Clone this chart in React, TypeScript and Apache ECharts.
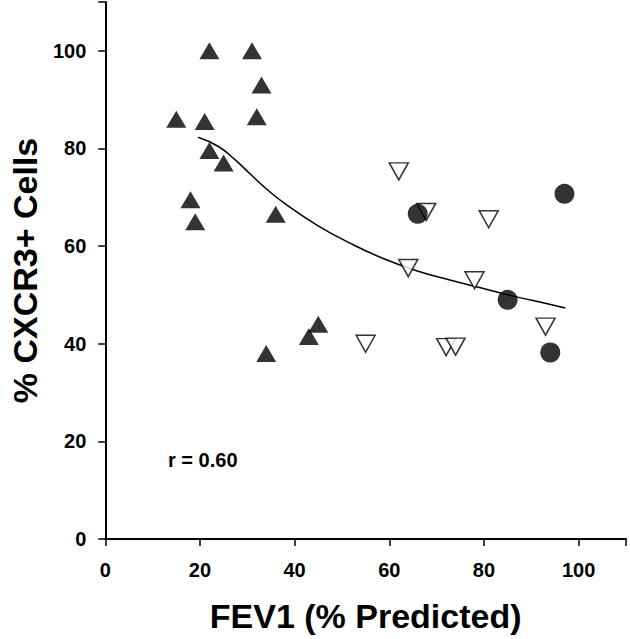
import React, { useEffect, useRef } from "react";
import * as echarts from "echarts";

const xTicks = [0, 20, 40, 60, 80, 100];
const yTicks = [0, 20, 40, 60, 80, 100];

const upTriangles: [number, number][] = [
  [22, 100], [31, 100], [33, 93], [15, 86], [21, 85.5], [32, 86.5], [22, 79.6],
  [25, 77], [18, 69.5], [19, 65], [36, 66.5], [45, 44], [43, 41.5], [34, 38],
];
const downTriangles: [number, number][] = [
  [62, 75.3], [67.8, 67], [81, 65.5], [64, 55.5], [78, 53], [93, 43.5],
  [55, 40], [72, 39.3], [74, 39.4],
];
const circles: [number, number][] = [
  [66, 66.6], [97, 70.7], [85, 49], [94, 38.2],
];
const fitCurve: [number, number][] = [
  [19.6, 82.3], [23.9, 80.4], [27.4, 77.7], [30.8, 74.6], [34.3, 71.5],
  [37.8, 68.8], [44.7, 64.3], [51.7, 60.6], [58.6, 57.5], [65.6, 55.0],
  [72.6, 53.1], [79.5, 51.4], [86.4, 49.7], [93.4, 48.2], [97.2, 47.3],
];
const xTitle = "FEV1 (% Predicted)";
const yTitle = "% CXCR3+ Cells";
const rLabel = "r = 0.60";

const FONT = "Liberation Sans, Arial, sans-serif";

export default function App() {
  const ref = useRef<HTMLDivElement>(null);
  useEffect(() => {
    if (!ref.current) return;
    const chart = echarts.init(ref.current, null, { renderer: "svg" });
    const axisCommon = {
      min: 0,
      max: 110,
      interval: 20,
      axisLine: { show: true, lineStyle: { color: "#000", width: 2 } },
      axisTick: { show: true, inside: false, length: 7, lineStyle: { color: "#000", width: 1.5 } },
      splitLine: { show: false },
      nameLocation: "middle" as const,
      nameTextStyle: { fontFamily: FONT, fontWeight: "bold" as const, fontSize: 34, color: "#000" },
    };
    chart.setOption({
      animation: false,
      backgroundColor: "#fff",
      grid: { left: 99, right: 4, top: 2, bottom: 100, containLabel: false },
      xAxis: {
        ...axisCommon,
        type: "value",
        name: xTitle,
        nameGap: 60,
        axisLabel: {
          margin: 21,
          fontFamily: FONT,
          fontWeight: "bold",
          fontSize: 20,
          color: "#000",
          formatter: (v: number) => (xTicks.includes(v) ? String(v) : ""),
        },
      },
      yAxis: {
        ...axisCommon,
        type: "value",
        name: yTitle,
        nameGap: 63,
        axisLabel: {
          margin: 19,
          fontFamily: FONT,
          fontWeight: "bold",
          fontSize: 20,
          color: "#000",
          formatter: (v: number) => (yTicks.includes(v) ? String(v) : ""),
        },
      },
      graphic: [
        {
          type: "text",
          left: 168,
          top: 450,
          style: { text: rLabel, fontFamily: FONT, fontWeight: "bold", fontSize: 20, fill: "#000" },
        },
      ],
      series: [
        {
          type: "line",
          data: fitCurve,
          smooth: true,
          showSymbol: false,
          symbol: "none",
          lineStyle: { color: "#000", width: 1.5 },
          z: 1,
        },
        {
          type: "scatter",
          data: upTriangles,
          symbol: "triangle",
          symbolSize: [20, 17],
          itemStyle: { color: "#000" },
          z: 2,
        },
        {
          type: "scatter",
          data: downTriangles,
          symbol: "triangle",
          symbolRotate: 180,
          symbolSize: [19, 17],
          itemStyle: { color: "#fff", borderColor: "#000", borderWidth: 1.5 },
          z: 3,
        },
        {
          type: "scatter",
          data: circles,
          symbol: "circle",
          symbolSize: 20,
          itemStyle: { color: "#000" },
          z: 4,
        },
      ],
    });
    return () => chart.dispose();
  }, []);
  return <div ref={ref} style={{ width: 630, height: 639, position: "absolute", left: 0, top: 0 }} />;
}
